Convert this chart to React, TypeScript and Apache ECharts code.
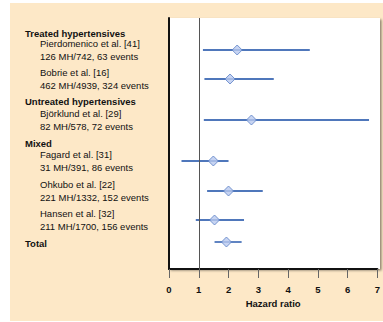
import React, { useEffect, useRef } from "react";
import * as echarts from "echarts";

// ---- data ----
const studies = [
  "Pierdomenico et al. [41]",
  "Bobrie et al. [16]",
  "Björklund et al. [29]",
  "Fagard et al. [31]",
  "Ohkubo et al. [22]",
  "Hansen et al. [32]",
  "Total",
];
const details = [
  "126 MH/742, 63 events",
  "462 MH/4939, 324 events",
  "82 MH/578, 72 events",
  "31 MH/391, 86 events",
  "221 MH/1332, 152 events",
  "211 MH/1700, 156 events",
  "",
];
const groups = ["Treated hypertensives", "Untreated hypertensives", "Mixed"];
const hazard = [2.29, 2.05, 2.77, 1.49, 2.0, 1.53, 1.93];
const lower = [1.14, 1.19, 1.17, 0.42, 1.28, 0.9, 1.53];
const upper = [4.73, 3.52, 6.72, 2.0, 3.15, 2.52, 2.44];
const xTicks = [0, 1, 2, 3, 4, 5, 6, 7];

// ---- layout (pixels) ----
const rowPixel = [50, 79, 120, 161, 191, 220, 242];
const groupPixel = [33, 101, 143];
const gridTop = 18;
const gridBottomPx = 269;
const gridLeft = 169;
const gridRightPx = 380;
const W = 383;
const H = 322;

const FONT = "'Liberation Sans', Arial, Helvetica, sans-serif";

export default function App() {
  const ref = useRef<HTMLDivElement>(null);
  useEffect(() => {
    if (!ref.current) return;
    const chart = echarts.init(ref.current, undefined, { renderer: "svg" });
    const plotH = gridBottomPx - gridTop;
    const rowY = rowPixel.map((p) => p - gridTop);

    const texts: any[] = [];
    groups.forEach((g, i) => {
      texts.push({
        type: "text",
        x: 25,
        y: groupPixel[i],
        z: 10,
        style: { text: g, font: `bold 9.5px ${FONT}`, fill: "#111", verticalAlign: "middle" },
      });
    });
    studies.forEach((s, i) => {
      const isTotal = i === studies.length - 1;
      texts.push({
        type: "text",
        x: isTotal ? 25 : 40,
        y: isTotal ? rowPixel[i] + 1 : rowPixel[i] - 7,
        z: 10,
        style: {
          text: s,
          font: `${isTotal ? "bold " : ""}9.5px ${FONT}`,
          fill: "#111",
          verticalAlign: "middle",
        },
      });
      if (details[i]) {
        texts.push({
          type: "text",
          x: 40,
          y: rowPixel[i] + 6,
          z: 10,
          style: { text: details[i], font: `9.5px ${FONT}`, fill: "#111", verticalAlign: "middle" },
        });
      }
    });

    chart.setOption({
      animation: false,
      grid: {
        left: gridLeft,
        right: W - gridRightPx,
        top: gridTop,
        bottom: H - gridBottomPx,
      },
      graphic: [
        {
          type: "rect",
          z: -10,
          shape: { x: 10, y: 3, width: W - 10, height: H - 4 },
          style: { fill: "#fde8c7" },
          silent: true,
        },
        {
          type: "rect",
          z: -9,
          shape: { x: gridLeft, y: gridTop, width: gridRightPx - gridLeft, height: plotH },
          style: {
            fill: "#ffffff",
            shadowBlur: 2,
            shadowColor: "rgba(0,0,0,0.45)",
            shadowOffsetX: 1.5,
            shadowOffsetY: 1.5,
          },
          silent: true,
        },
        ...texts,
      ],
      xAxis: {
        type: "value",
        min: 0,
        max: 7,
        interval: 1,
        splitLine: { show: false },
        axisLine: { show: true, onZero: false, lineStyle: { color: "#111", width: 2 } },
        axisTick: { show: true, length: 9, lineStyle: { color: "#666", width: 1 } },
        axisLabel: {
          color: "#111",
          fontFamily: FONT,
          fontSize: 9.5,
          fontWeight: "bold",
          margin: 15,
          formatter: (v: number) => (xTicks.includes(v) ? String(v) : ""),
        },
        name: "Hazard ratio",
        nameLocation: "middle",
        nameGap: 29,
        nameTextStyle: { color: "#111", fontFamily: FONT, fontSize: 9.5, fontWeight: "bold" },
      },
      yAxis: {
        type: "value",
        min: 0,
        max: plotH,
        inverse: true,
        axisLine: { show: true, onZero: false, lineStyle: { color: "#111", width: 2 } },
        axisTick: { show: false },
        axisLabel: { show: false },
        splitLine: { show: false },
      },
      series: [
        {
          type: "custom",
          z: 3,
          data: lower.map((lo, i) => [lo, upper[i], rowY[i]]),
          renderItem: (params: any, api: any) => {
            const p1 = api.coord([api.value(0), api.value(2)]);
            const p2 = api.coord([api.value(1), api.value(2)]);
            return {
              type: "line",
              shape: { x1: p1[0], y1: p1[1], x2: p2[0], y2: p2[1] },
              style: { stroke: "#4f77bb", lineWidth: 1.8 },
            };
          },
        },
        {
          type: "scatter",
          z: 4,
          symbol: "diamond",
          symbolSize: [10, 10],
          itemStyle: { color: "#b9c9ef", borderColor: "#5a7fc6", borderWidth: 1 },
          data: hazard.map((h, i) => [h, rowY[i]]),
          markLine: {
            silent: true,
            symbol: "none",
            label: { show: false },
            lineStyle: { color: "#555", width: 1, type: "solid" },
            data: [{ xAxis: 1 }],
          },
        },
      ],
    });
    return () => chart.dispose();
  }, []);
  return (
    <div
      ref={ref}
      style={{ position: "absolute", left: 0, top: 0, width: W, height: H }}
    />
  );
}
